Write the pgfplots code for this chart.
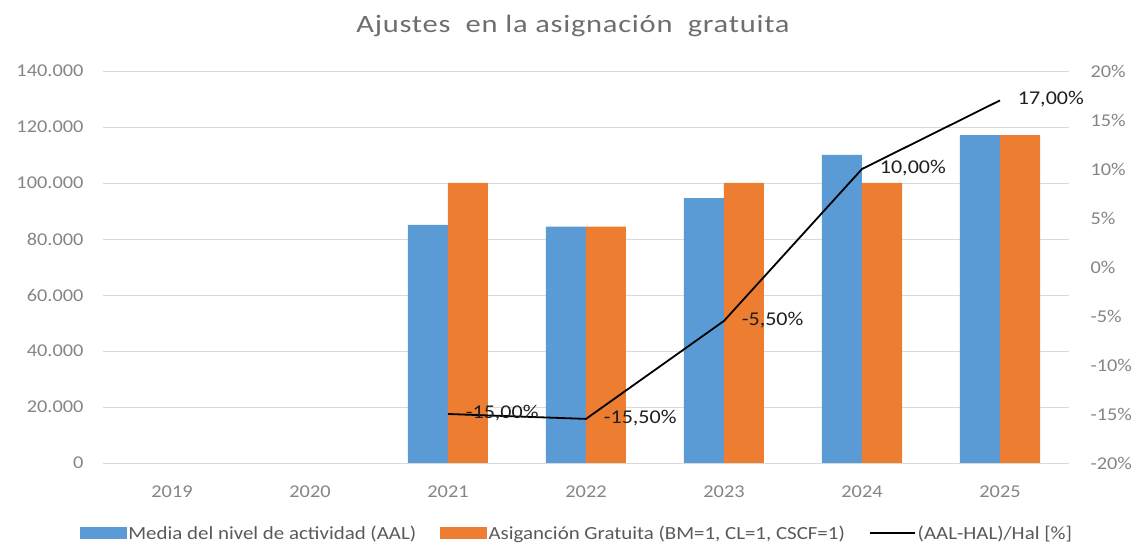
\documentclass[border=0pt]{standalone}
\usepackage{pgfplots}
\pgfplotsset{compat=1.18}
\usepackage{fontspec}
\setmainfont{Carlito}[FakeStretch=1.13]
\newfontfamily\titlefont{Carlito}[FakeStretch=1.22, LetterSpace=3]
\definecolor{cblue}{HTML}{5B9BD5}
\definecolor{corange}{HTML}{ED7D31}
\definecolor{tgray}{HTML}{858585}
\definecolor{lgray}{HTML}{595959}
\definecolor{ttl}{HTML}{6E6E6E}
\definecolor{gridc}{HTML}{D9D9D9}
\begin{document}
\begin{tikzpicture}
\path (-103pt,-83pt) rectangle (1033pt,463pt);
\node[text=ttl, font=\titlefont\fontsize{25}{28}\selectfont, anchor=center] at (470pt,437pt) {Ajustes\ \ en la asignación\ \ gratuita};
\begin{axis}[
  at={(0,0)}, anchor=south west,
  scale only axis, width=966pt, height=392pt,
  xmin=-0.5, xmax=6.5, ymin=0, ymax=140000,
  xtick={0,...,6}, xticklabels={2019,2020,2021,2022,2023,2024,2025},
  ytick={0,20000,40000,60000,80000,100000,120000,140000},
  yticklabels={0,20.000,40.000,60.000,80.000,100.000,120.000,140.000},
  scaled y ticks=false,
  ymajorgrids, grid style={gridc, line width=0.9pt},
  axis x line*=bottom, axis y line*=left,
  x axis line style={gridc, line width=0.9pt, -},
  y axis line style={draw=none},
  major tick length=0pt,
  tick label style={font=\fontsize{18}{21}\selectfont, text=tgray},
  yticklabel style={xshift=-16pt},
  xticklabel style={yshift=-19pt},
]
\addplot[ybar, bar width=40pt, bar shift=-20pt, fill=cblue, draw=none] coordinates {(2,85000) (3,84400) (4,94600) (5,110000) (6,117100)};
\addplot[ybar, bar width=40pt, bar shift=20pt, fill=corange, draw=none] coordinates {(2,100000) (3,84400) (4,100000) (5,100000) (6,117100)};
\end{axis}
\begin{axis}[
  at={(0,0)}, anchor=south west,
  scale only axis, width=966pt, height=392pt,
  xmin=-0.5, xmax=6.5, ymin=-20, ymax=20,
  axis x line=none, axis y line*=right,
  y axis line style={draw=none},
  ytick={-20,-15,-10,-5,0,5,10,15,20},
  yticklabels={-20\%,-15\%,-10\%,-5\%,0\%,5\%,10\%,15\%,20\%},
  major tick length=0pt,
  tick label style={font=\fontsize{18}{21}\selectfont, text=tgray},
  yticklabel style={xshift=18pt},
  legend style={at={(0.4907,-70pt)}, anchor=center, draw=none, fill=none,
    legend columns=3, font=\fontsize{18.5}{21}\selectfont, text=lgray,
    /tikz/every even column/.append style={column sep=22pt},
    /tikz/every odd column/.append style={column sep=0pt},
    nodes={inner sep=2pt}},
]
\addlegendimage{legend image code/.code={\fill[cblue] (0pt,-5.5pt) rectangle (46pt,5.5pt);}}
\addlegendentry{Media del nivel de actividad (AAL)}
\addlegendimage{legend image code/.code={\fill[corange] (0pt,-5.5pt) rectangle (46pt,5.5pt);}}
\addlegendentry{Asiganción Gratuita (BM=1, CL=1, CSCF=1)}
\addplot[black, line width=1.8pt, mark=none,
  legend image code/.code={\draw[black, line width=1.8pt] (0pt,0pt) -- (45pt,0pt);},
  nodes near coords, point meta=explicit symbolic,
  nodes near coords style={anchor=west, xshift=17pt, yshift=1pt, inner sep=0pt, text=black!88, font=\fontsize{19.5}{22}\selectfont}]
  coordinates {(2,-15) [-15,00\%] (3,-15.5) [-15,50\%] (4,-5.5) [-5,50\%] (5,10) [10,00\%] (6,17) [17,00\%]};
\addlegendentry{(AAL-HAL)/Hal [\%]}
\end{axis}
\end{tikzpicture}
\end{document}
